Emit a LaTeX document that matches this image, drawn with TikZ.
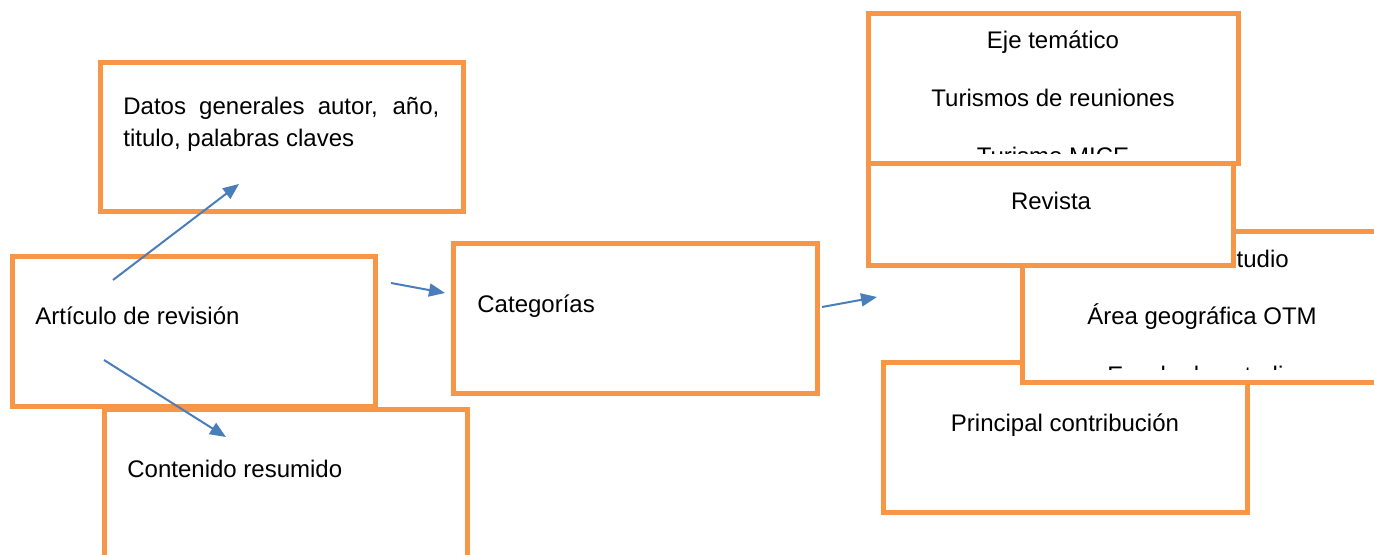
\documentclass[tikz,border=0pt]{standalone}
\usepackage{fontspec}
\setmainfont{Liberation Sans}
\usepackage{xcolor}
\usepackage{tikz}
\usetikzlibrary{arrows.meta}

\definecolor{boxorange}{HTML}{F79646}
\definecolor{arrowblue}{HTML}{4A7EBB}

\begin{document}
\begin{tikzpicture}[
    x=0.5pt, y=-0.5pt,
    box/.style={rectangle, draw=boxorange, fill=white, line width=2.5pt, anchor=north west, inner sep=0pt, outer sep=0pt, minimum width=181.5pt, minimum height=74.5pt},
    txt/.style={inner sep=0pt, font=\fontsize{12}{16}\selectfont},
    wide/.style={font=\fontsize{12}{29}\selectfont, align=center},
    arrow/.style={-{Triangle[length=8pt, width=6.5pt]}, draw=arrowblue, line width=1pt}
]
\clip (0,0) rectangle (1374,555);

% Left part
\node[box] (datos) at (100,63) {};
\node[txt, anchor=base west, text width=158pt, align=justify] (datostxt) at (123,115) {Datos generales autor, año, titulo, palabras claves};

\node[box] (articulo) at (12,257) {};
\node[txt, anchor=base west] (articulotxt) at (35,325) {Artículo de revisión};

\node[box] (contenido) at (104,409) {};
\node[txt, anchor=base west] (contenidotxt) at (127,477) {Contenido resumido};

\node[box, minimum width=182pt] (categorias) at (453,244) {};
\node[txt, anchor=base west] (categoriastxt) at (477,313) {Categorías};

% Right part (back to front)
\node[box, minimum width=182pt, minimum height=75pt] (principal) at (883,362) {};
\node[txt, anchor=base] (principaltxt) at (1065,431) {Principal contribución};

\node[box, minimum width=180pt, minimum height=75pt] (area) at (1022,232) {};
\begin{scope}
  \clip (1022,232) rectangle (1382,369);
  % base = last line
  \node[txt, wide, anchor=base] (areatxt) at (1202,383) {Caso de estudio\\Área geográfica OTM\\Escala de estudio};
\end{scope}

\node[box, minimum width=185pt, minimum height=75pt] (eje) at (868,14) {};
\begin{scope}
  \clip (868,14) rectangle (1238,154);
  \node[txt, wide, anchor=base] (ejetxt) at (1053,165) {Eje temático\\Turismos de reuniones\\Turismo MICE};
\end{scope}

\node[box, minimum width=182.5pt, minimum height=51pt] (revista) at (868,164) {};
\node[txt, anchor=base] (revistatxt) at (1051,210) {Revista};

% Arrows
\coordinate (d0) at (113,280);
\coordinate (d1) at (239,184);
\coordinate (c0) at (104,360);
\coordinate (c1) at (226,437);
\coordinate (k0) at (391,283);
\coordinate (k1) at (445,293);
\coordinate (r0) at (822,307);
\coordinate (r1) at (877,297);

\draw[arrow] (d0) -- (d1);
\draw[arrow] (c0) -- (c1);
\draw[arrow] (k0) -- (k1);
\draw[arrow] (r0) -- (r1);

\end{tikzpicture}
\end{document}
